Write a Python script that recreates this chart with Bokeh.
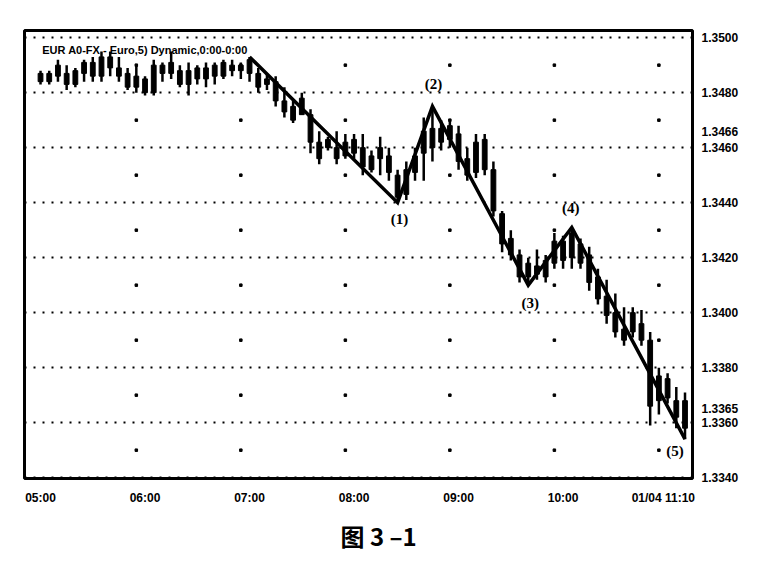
import numpy as np
from bokeh.plotting import figure
from bokeh.models import Range1d, FixedTicker, NumeralTickFormatter, Label, Title
from bokeh.embed import file_html
from bokeh.resources import INLINE
from bokeh.core.properties import value

# ---------------- data ----------------
bar_index = list(range(75))   # 5-minute bars, 05:00 .. 11:10
high = [1.3488, 1.3488, 1.3492, 1.3490, 1.3489, 1.3492, 1.3493, 1.3495, 1.3495, 1.3493,
        1.3489, 1.3490, 1.3486, 1.3492, 1.3491, 1.3495, 1.3490, 1.3491, 1.3490, 1.3491,
        1.3491, 1.3492, 1.3492, 1.3491, 1.3493, 1.3489, 1.3487, 1.3486, 1.3482, 1.3477,
        1.3480, 1.3474, 1.3466, 1.3464, 1.3466, 1.3465, 1.3465, 1.3465, 1.3459, 1.3464,
        1.3460, 1.3452, 1.3455, 1.3460, 1.3471, 1.3475, 1.3470, 1.3470, 1.3468, 1.3460,
        1.3465, 1.3465, 1.3455, 1.3437, 1.3430, 1.3423, 1.3420, 1.3423, 1.3421, 1.3429,
        1.3428, 1.3431, 1.3427, 1.3424, 1.3416, 1.3412, 1.3407, 1.3402, 1.3402, 1.3401,
        1.3393, 1.3380, 1.3378, 1.3373, 1.3371]
low = [1.3483, 1.3483, 1.3484, 1.3481, 1.3482, 1.3484, 1.3484, 1.3484, 1.3486, 1.3484,
       1.3481, 1.3480, 1.3479, 1.3479, 1.3484, 1.3485, 1.3482, 1.3479, 1.3483, 1.3482,
       1.3483, 1.3485, 1.3486, 1.3485, 1.3484, 1.3480, 1.3481, 1.3475, 1.3471, 1.3469,
       1.3472, 1.3458, 1.3454, 1.3459, 1.3454, 1.3456, 1.3456, 1.3450, 1.3451, 1.3450,
       1.3448, 1.3440, 1.3441, 1.3448, 1.3448, 1.3455, 1.3459, 1.3460, 1.3452, 1.3448,
       1.3449, 1.3450, 1.3435, 1.3422, 1.3419, 1.3411, 1.3410, 1.3412, 1.3411, 1.3416,
       1.3416, 1.3416, 1.3416, 1.3408, 1.3403, 1.3396, 1.3391, 1.3388, 1.3391, 1.3388,
       1.3359, 1.3363, 1.3367, 1.3358, 1.3354]
open_ = [1.3487, 1.3484, 1.3490, 1.3487, 1.3483, 1.3487, 1.3491, 1.3486, 1.3493, 1.3489,
         1.3487, 1.3482, 1.3485, 1.3480, 1.3490, 1.3487, 1.3488, 1.3483, 1.3489, 1.3485,
         1.3490, 1.3486, 1.3490, 1.3488, 1.3492, 1.3487, 1.3485, 1.3484, 1.3477, 1.3475,
         1.3472, 1.3472, 1.3462, 1.3463, 1.3460, 1.3457, 1.3463, 1.3460, 1.3452, 1.3460,
         1.3457, 1.3450, 1.3443, 1.3451, 1.3458, 1.3467, 1.3462, 1.3468, 1.3465, 1.3456,
         1.3451, 1.3463, 1.3452, 1.3436, 1.3427, 1.3421, 1.3413, 1.3417, 1.3413, 1.3418,
         1.3426, 1.3420, 1.3425, 1.3421, 1.3413, 1.3406, 1.3400, 1.3394, 1.3400, 1.3396,
         1.3390, 1.3368, 1.3376, 1.3368, 1.3368]
close = [1.3484, 1.3487, 1.3486, 1.3483, 1.3488, 1.3491, 1.3486, 1.3493, 1.3489, 1.3486,
         1.3482, 1.3486, 1.3480, 1.3490, 1.3487, 1.3491, 1.3483, 1.3488, 1.3485, 1.3489,
         1.3486, 1.3491, 1.3488, 1.3490, 1.3487, 1.3482, 1.3483, 1.3477, 1.3473, 1.3470,
         1.3478, 1.3462, 1.3456, 1.3460, 1.3456, 1.3462, 1.3458, 1.3453, 1.3457, 1.3456,
         1.3451, 1.3442, 1.3452, 1.3457, 1.3466, 1.3460, 1.3467, 1.3463, 1.3455, 1.3450,
         1.3462, 1.3452, 1.3437, 1.3425, 1.3421, 1.3413, 1.3418, 1.3414, 1.3419, 1.3426,
         1.3419, 1.3429, 1.3418, 1.3411, 1.3405, 1.3399, 1.3393, 1.3390, 1.3393, 1.3390,
         1.3366, 1.3377, 1.3369, 1.3362, 1.3358]

x_tick_index = [0, 12, 24, 36, 48, 60, 74]
x_tick_labels = ["05:00", "06:00", "07:00", "08:00", "09:00", "10:00", "01/04 11:10"]
y_ticks = [1.3340, 1.3360, 1.3365, 1.3380, 1.3400, 1.3420, 1.3440, 1.3460, 1.3466, 1.3480, 1.3500]
grid_levels = [1.3340, 1.3360, 1.3380, 1.3400, 1.3420, 1.3440, 1.3460, 1.3480, 1.3500]
mid_levels = [1.3350, 1.3370, 1.3390, 1.3410, 1.3430, 1.3450, 1.3470, 1.3490]
vgrid_index = [11, 23, 35, 47, 59, 71]

wave_index = [24, 41, 45, 56, 61, 74]
wave_price = [1.3493, 1.3440, 1.3475, 1.3410, 1.3431, 1.3354]
wave_labels = ["(1)", "(2)", "(3)", "(4)", "(5)"]

chart_title = "EUR A0-FX - Euro,5) Dynamic,0:00-0:00"
caption = "图 3 –1"

# ---------------- figure ----------------
p = figure(frame_width=668, frame_height=448,
           x_range=Range1d(-1.84, 74.86), y_range=Range1d(1.33397, 1.35026),
           y_axis_location="right", output_backend="svg", toolbar_location=None,
           min_border_left=24, min_border_top=30, min_border_right=61, min_border_bottom=16,
           background_fill_color="white", border_fill_color="white")
p.outline_line_color = "black"
p.outline_line_width = 3
p.outline_line_alpha = 1

# grid
p.xgrid.visible = False
p.ygrid.ticker = FixedTicker(ticks=grid_levels)
p.ygrid.grid_line_color = "black"
p.ygrid.grid_line_width = 2
p.ygrid.grid_line_dash = "2 7"

gx, gy = np.meshgrid(vgrid_index, mid_levels)
p.scatter(x=gx.ravel(), y=gy.ravel(), marker="square", size=2.5, color="black")

# axes
ya = p.yaxis[0]
ya.ticker = FixedTicker(ticks=y_ticks)
ya.formatter = NumeralTickFormatter(format="0.0000")
ya.axis_line_color = None
ya.major_tick_line_color = None
ya.minor_tick_line_color = None
ya.major_label_standoff = 3
ya.major_label_text_font = "Liberation Sans"
ya.major_label_text_font_style = "bold"
ya.major_label_text_font_size = "12px"
ya.major_label_text_color = "black"

pad = "\u00a0" * 13   # shifts the last label left of its bar, as in the original
xa = p.xaxis[0]
xa.ticker = FixedTicker(ticks=x_tick_index)
overrides = {i: s for i, s in zip(x_tick_index, x_tick_labels)}
overrides[x_tick_index[-1]] = x_tick_labels[-1] + pad
xa.major_label_overrides = overrides
xa.axis_line_color = None
xa.major_tick_line_color = None
xa.minor_tick_line_color = None
xa.major_label_standoff = 6
xa.major_label_text_font = "Liberation Sans"
xa.major_label_text_font_style = "bold"
xa.major_label_text_font_size = "12px"
xa.major_label_text_color = "black"

# candles
body_top = np.maximum(open_, close)
body_bot = np.minimum(open_, close)
p.segment(x0=bar_index, y0=low, x1=bar_index, y1=high, line_width=2.5, color="black")
p.vbar(x=bar_index, width=0.55, top=body_top, bottom=body_bot, color="black")

# wave
p.line(wave_index, wave_price, line_width=3.5, color="black", line_join="miter")
label_dx = [2, 1, 2, -1, -10]
label_dy = [16, -22, 18, -19, 12]
p.text(x=wave_index[1:], y=wave_price[1:], text=wave_labels,
       x_offset=label_dx, y_offset=label_dy,
       text_align="center", text_baseline="middle",
       text_font=value("Liberation Serif"), text_font_style="bold",
       text_font_size="15px", text_color="black")

# title inside frame
p.add_layout(Label(x=0.2, y=1.34956, text=chart_title, text_font="Liberation Sans",
                   text_font_style="bold", text_font_size="11px", text_color="black",
                   text_baseline="alphabetic"))

# caption below the chart
cap = Title(text=caption, align="left", text_font="Noto Sans CJK SC",
            text_font_style="bold", text_font_size="24px", text_color="black",
            standoff=16, offset=316)
p.add_layout(cap, "below")

open("out.html", "w").write(file_html(p, INLINE))
